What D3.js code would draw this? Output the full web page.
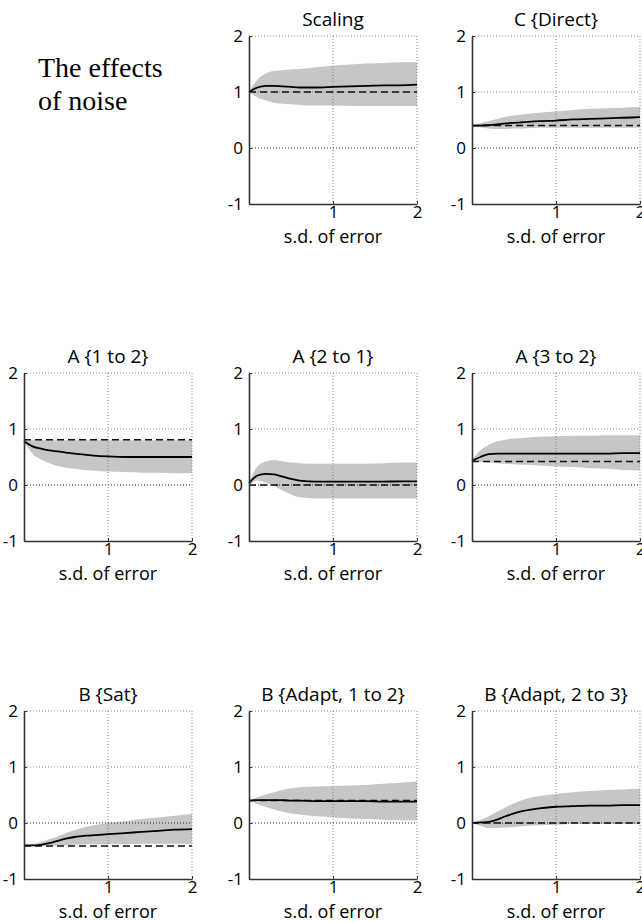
<!DOCTYPE html>
<html>
<head>
<meta charset="utf-8">
<script src="https://cdn.jsdelivr.net/npm/d3@7"></script>
<style>
  body { margin: 0; background: #fff; }
  svg { display: block; }
  .tick text { font-family: "Open Sans", sans-serif; }
</style>
</head>
<body>
<div id="chart"></div>
<script>
// noise levels (s.d. of error) shared by every panel
const noiseSd = [0, 0.1, 0.2, 0.3, 0.4, 0.5, 0.6, 0.8, 1.0, 1.2, 1.4, 1.6, 1.8, 2.0];
const yTicks = [-1, 0, 1, 2];
const xTicks = [1, 2];

const scalingMean  = [1.0, 1.08, 1.11, 1.11, 1.10, 1.09, 1.08, 1.08, 1.09, 1.10, 1.11, 1.12, 1.12, 1.13];
const scalingUpper = [1.0, 1.22, 1.33, 1.38, 1.39, 1.40, 1.41, 1.44, 1.47, 1.49, 1.51, 1.52, 1.53, 1.53];
const scalingLower = [1.0, 0.90, 0.85, 0.81, 0.79, 0.78, 0.77, 0.76, 0.76, 0.75, 0.75, 0.75, 0.75, 0.75];

const directMean  = [0.40, 0.40, 0.41, 0.42, 0.44, 0.45, 0.46, 0.48, 0.49, 0.51, 0.52, 0.53, 0.54, 0.55];
const directUpper = [0.40, 0.44, 0.48, 0.52, 0.56, 0.58, 0.60, 0.63, 0.65, 0.68, 0.70, 0.71, 0.72, 0.73];
const directLower = [0.40, 0.37, 0.35, 0.34, 0.34, 0.35, 0.35, 0.36, 0.36, 0.36, 0.36, 0.36, 0.36, 0.36];

const a12Mean  = [0.78, 0.69, 0.65, 0.62, 0.60, 0.58, 0.56, 0.53, 0.51, 0.50, 0.50, 0.50, 0.50, 0.50];
const a12Upper = [0.79, 0.80, 0.80, 0.80, 0.80, 0.80, 0.80, 0.80, 0.80, 0.80, 0.80, 0.80, 0.80, 0.80];
const a12Lower = [0.78, 0.56, 0.46, 0.39, 0.34, 0.31, 0.29, 0.26, 0.24, 0.23, 0.22, 0.22, 0.21, 0.21];

const a21Mean  = [0.03, 0.17, 0.20, 0.19, 0.15, 0.11, 0.08, 0.06, 0.06, 0.06, 0.06, 0.06, 0.065, 0.065];
const a21Upper = [0.05, 0.33, 0.42, 0.44, 0.42, 0.40, 0.39, 0.38, 0.38, 0.38, 0.38, 0.39, 0.40, 0.40];
const a21Lower = [0.0, 0.08, 0.04, -0.02, -0.10, -0.17, -0.22, -0.24, -0.24, -0.24, -0.24, -0.24, -0.24, -0.24];

const a32Mean  = [0.43, 0.50, 0.55, 0.56, 0.56, 0.56, 0.56, 0.56, 0.56, 0.56, 0.56, 0.56, 0.57, 0.57];
const a32Upper = [0.45, 0.62, 0.72, 0.78, 0.81, 0.83, 0.84, 0.86, 0.87, 0.88, 0.88, 0.89, 0.89, 0.89];
const a32Lower = [0.43, 0.41, 0.40, 0.39, 0.38, 0.37, 0.36, 0.35, 0.33, 0.32, 0.30, 0.29, 0.27, 0.26];

const satMean  = [-0.40, -0.40, -0.39, -0.36, -0.32, -0.28, -0.25, -0.22, -0.20, -0.18, -0.16, -0.14, -0.12, -0.11];
const satUpper = [-0.40, -0.38, -0.34, -0.29, -0.24, -0.18, -0.13, -0.05, 0.0, 0.03, 0.07, 0.10, 0.13, 0.16];
const satLower = [-0.40, -0.41, -0.41, -0.41, -0.40, -0.40, -0.39, -0.38, -0.38, -0.38, -0.37, -0.37, -0.37, -0.37];

const ad12Mean  = [0.40, 0.41, 0.41, 0.41, 0.41, 0.40, 0.40, 0.39, 0.39, 0.39, 0.39, 0.38, 0.38, 0.38];
const ad12Upper = [0.40, 0.46, 0.51, 0.55, 0.59, 0.62, 0.64, 0.65, 0.66, 0.67, 0.68, 0.70, 0.72, 0.74];
const ad12Lower = [0.40, 0.34, 0.29, 0.24, 0.20, 0.17, 0.15, 0.12, 0.10, 0.08, 0.07, 0.06, 0.05, 0.05];

const ad23Mean  = [0.0, 0.01, 0.02, 0.06, 0.12, 0.17, 0.21, 0.26, 0.29, 0.30, 0.31, 0.31, 0.32, 0.32];
const ad23Upper = [0.0, 0.05, 0.12, 0.20, 0.28, 0.35, 0.41, 0.48, 0.52, 0.55, 0.57, 0.59, 0.60, 0.61];
const ad23Lower = [0.0, -0.05, -0.09, -0.09, -0.08, -0.07, -0.06, -0.04, -0.03, -0.02, -0.02, -0.02, -0.02, -0.02];

// true parameter values (dashed lines)
const trueValues = [1.0, 0.4, 0.81, 0.0, 0.42, -0.41, 0.4, 0.0];
const titles = ["Scaling", "C {Direct}", "A {1  to 2}", "A {2 to 1}", "A {3  to 2}",
  "B {Sat}", "B {Adapt, 1  to 2}", "B {Adapt, 2 to 3}"];

const panels = [
  { row: 0, col: 1, mean: scalingMean, upper: scalingUpper, lower: scalingLower },
  { row: 0, col: 2, mean: directMean, upper: directUpper, lower: directLower },
  { row: 1, col: 0, mean: a12Mean, upper: a12Upper, lower: a12Lower },
  { row: 1, col: 1, mean: a21Mean, upper: a21Upper, lower: a21Lower },
  { row: 1, col: 2, mean: a32Mean, upper: a32Upper, lower: a32Lower },
  { row: 2, col: 0, mean: satMean, upper: satUpper, lower: satLower },
  { row: 2, col: 1, mean: ad12Mean, upper: ad12Upper, lower: ad12Lower },
  { row: 2, col: 2, mean: ad23Mean, upper: ad23Upper, lower: ad23Lower }
];
panels.forEach((p, i) => { p.title = titles[i]; p.truth = trueValues[i]; });

const width = 642, height = 922;
const colLeft = [24, 249, 472];
const rowTop = [36, 373, 711];
const pw = 168, ph = 168;
const font = '"Open Sans", sans-serif';

const svg = d3.select("#chart").append("svg")
  .attr("width", width)
  .attr("height", height);

svg.append("text")
  .attr("x", 38).attr("y", 77)
  .style("font-family", '"Liberation Serif", "Times New Roman", serif')
  .style("font-size", "28px")
  .text("The effects");
svg.append("text")
  .attr("x", 38).attr("y", 110)
  .style("font-family", '"Liberation Serif", "Times New Roman", serif')
  .style("font-size", "28px")
  .text("of noise");

const x = d3.scaleLinear().domain([0, 2]).range([0, pw]);
const y = d3.scaleLinear().domain([-1, 2]).range([ph, 0]);

panels.forEach(p => {
  const g = svg.append("g")
    .attr("transform", `translate(${colLeft[p.col]},${rowTop[p.row]})`);

  const pts = noiseSd.map((s, i) => ({ s: s, m: p.mean[i], hi: p.upper[i], lo: p.lower[i] }));

  // shaded band
  g.append("path")
    .datum(pts)
    .attr("fill", "#c6c6c6")
    .attr("d", d3.area()
      .x(d => x(d.s))
      .y0(d => y(d.lo))
      .y1(d => y(d.hi))
      .curve(d3.curveMonotoneX));

  // dotted grid
  g.selectAll(".hgrid")
    .data(yTicks.filter(v => v > -1))
    .enter().append("line")
    .attr("x1", 0).attr("x2", pw)
    .attr("y1", d => y(d)).attr("y2", d => y(d))
    .attr("stroke", d => d === 0 ? "#222" : "#777")
    .attr("stroke-width", d => d === 0 ? 1.2 : 0.9)
    .attr("stroke-dasharray", "1,2");
  g.selectAll(".vgrid")
    .data(xTicks)
    .enter().append("line")
    .attr("y1", 0).attr("y2", ph)
    .attr("x1", d => x(d)).attr("x2", d => x(d))
    .attr("stroke", "#777")
    .attr("stroke-width", 0.9)
    .attr("stroke-dasharray", "1,2");

  // true value
  g.append("line")
    .attr("x1", 0).attr("x2", pw)
    .attr("y1", y(p.truth)).attr("y2", y(p.truth))
    .attr("stroke", "#111")
    .attr("stroke-width", 1.5)
    .attr("stroke-dasharray", "7,4");

  // mean estimate
  g.append("path")
    .datum(pts)
    .attr("fill", "none")
    .attr("stroke", "#000")
    .attr("stroke-width", 1.8)
    .attr("d", d3.line()
      .x(d => x(d.s))
      .y(d => y(d.m))
      .curve(d3.curveMonotoneX));

  // axes
  const yAxis = g.append("g")
    .call(d3.axisLeft(y).tickValues(yTicks).tickSizeInner(-3).tickSizeOuter(0).tickPadding(6).tickFormat(d => String(d)));
  const xAxis = g.append("g")
    .attr("transform", `translate(0,${ph})`)
    .call(d3.axisBottom(x).tickValues(xTicks).tickSizeInner(-3).tickSizeOuter(0).tickPadding(2).tickFormat(d => String(d)));
  [yAxis, xAxis].forEach(a => {
    a.select(".domain").attr("stroke", "#333").attr("stroke-width", 1.6);
    a.selectAll(".tick line").attr("stroke", "#333");
    a.selectAll(".tick text")
      .attr("fill", "#000")
      .style("font-family", font)
      .style("font-size", "17px");
  });

  g.append("text")
    .attr("x", pw / 2).attr("y", -10.5)
    .attr("text-anchor", "middle")
    .style("font-family", font)
    .style("font-size", "19px")
    .attr("fill", "#000")
    .text(p.title);

  g.append("text")
    .attr("x", pw / 2).attr("y", ph + 39)
    .attr("text-anchor", "middle")
    .style("font-family", font)
    .style("font-size", "18px")
    .attr("fill", "#000")
    .text("s.d. of error");
});
</script>
</body>
</html>
